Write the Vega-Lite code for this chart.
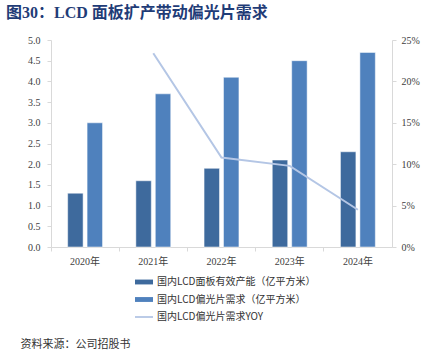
{
  "$schema": "https://vega.github.io/schema/vega-lite/v6.json",
  "width": 341,
  "height": 207,
  "autosize": {"type": "none"},
  "padding": {"left": 51, "top": 40, "right": 50, "bottom": 113},
  "background": "#ffffff",
  "title": {
    "text": "图30：LCD 面板扩产带动偏光片需求",
    "anchor": "start",
    "frame": "group",
    "orient": "top",
    "dx": -45,
    "offset": 14,
    "font": "Liberation Serif, Noto Sans CJK SC",
    "fontSize": 16,
    "fontWeight": "bold",
    "color": "#1F3C77"
  },
  "config": {
    "view": {"stroke": null},
    "axis": {
      "labelFont": "Liberation Serif, Noto Sans CJK SC",
      "labelFontSize": 10,
      "labelColor": "#404040",
      "domainColor": "#D9D9D9",
      "tickColor": "#D9D9D9",
      "grid": false
    }
  },
  "data": {
    "values": [
      {"year": "2020年", "series": "国内LCD面板有效产能（亿平方米）", "value": 1.3},
      {"year": "2020年", "series": "国内LCD偏光片需求（亿平方米）", "value": 3.0},
      {"year": "2021年", "series": "国内LCD面板有效产能（亿平方米）", "value": 1.6},
      {"year": "2021年", "series": "国内LCD偏光片需求（亿平方米）", "value": 3.7},
      {"year": "2022年", "series": "国内LCD面板有效产能（亿平方米）", "value": 1.9},
      {"year": "2022年", "series": "国内LCD偏光片需求（亿平方米）", "value": 4.1},
      {"year": "2023年", "series": "国内LCD面板有效产能（亿平方米）", "value": 2.1},
      {"year": "2023年", "series": "国内LCD偏光片需求（亿平方米）", "value": 4.5},
      {"year": "2024年", "series": "国内LCD面板有效产能（亿平方米）", "value": 2.3},
      {"year": "2024年", "series": "国内LCD偏光片需求（亿平方米）", "value": 4.7},
      {"year": "2021年", "series": "国内LCD偏光片需求YOY", "value": 0.234},
      {"year": "2022年", "series": "国内LCD偏光片需求YOY", "value": 0.108},
      {"year": "2023年", "series": "国内LCD偏光片需求YOY", "value": 0.098},
      {"year": "2024年", "series": "国内LCD偏光片需求YOY", "value": 0.045}
    ]
  },
  "encoding": {
    "x": {
      "field": "year",
      "type": "nominal",
      "sort": null,
      "scale": {"paddingInner": 0, "paddingOuter": 0},
      "axis": {
        "labelAngle": 0,
        "bandPosition": 0,
        "tickSize": 4,
        "labelPadding": 5,
        "labelBaseline": "top",
        "title": "资料来源：公司招股书",
        "titleX": -31,
        "titleY": 97,
        "titleAlign": "left",
        "titleBaseline": "middle",
        "titleFont": "Noto Sans CJK SC",
        "titleFontSize": 11,
        "titleFontWeight": "normal",
        "titleColor": "#333333"
      }
    },
    "color": {
      "field": "series",
      "type": "nominal",
      "scale": {
        "domain": ["国内LCD面板有效产能（亿平方米）", "国内LCD偏光片需求（亿平方米）", "国内LCD偏光片需求YOY"],
        "range": ["#3E6A9D", "#4F81BD", "#B4C6E5"]
      },
      "legend": {
        "title": null,
        "orient": "none",
        "legendX": 84,
        "legendY": 233,
        "direction": "vertical",
        "labelFont": "Noto Sans CJK SC",
        "labelFontSize": 10,
        "labelColor": "#333333",
        "symbolSize": 324,
        "rowPadding": 3.5,
        "labelOffset": 4,
        "encode": {
          "symbols": {
            "update": {
              "shape": {"signal": "datum.value == '国内LCD偏光片需求YOY' ? 'M-1,-0.1H1V0.1H-1Z' : 'M-1,-0.27H1V0.27H-1Z'"},
              "fill": {"scale": "color", "field": "value"},
              "stroke": {"scale": "color", "field": "value"},
              "strokeWidth": {"value": 0},
              "opacity": {"value": 1},
              "fillOpacity": {"value": 1}
            }
          }
        }
      }
    }
  },
  "layer": [
    {
      "transform": [{"filter": "datum.series != '国内LCD偏光片需求YOY'"}],
      "mark": {"type": "bar", "stroke": "#ffffff", "strokeOpacity": 0.5, "strokeWidth": 1},
      "encoding": {
        "xOffset": {
          "field": "series",
          "type": "nominal",
          "sort": ["国内LCD面板有效产能（亿平方米）", "国内LCD偏光片需求（亿平方米）"],
          "scale": {"paddingInner": 0.205, "paddingOuter": 0.857}
        },
        "y": {
          "field": "value",
          "type": "quantitative",
          "scale": {"domain": [0, 5]},
          "axis": {
            "title": null,
            "values": [0, 0.5, 1, 1.5, 2, 2.5, 3, 3.5, 4, 4.5, 5],
            "format": ".1f",
            "tickSize": 4,
            "labelPadding": 7
          }
        }
      }
    },
    {
      "transform": [{"filter": "datum.series == '国内LCD偏光片需求YOY'"}],
      "mark": {"type": "line", "strokeWidth": 2},
      "encoding": {
        "y": {
          "field": "value",
          "type": "quantitative",
          "scale": {"domain": [0, 0.25]},
          "axis": {
            "title": null,
            "orient": "right",
            "values": [0, 0.05, 0.1, 0.15, 0.2, 0.25],
            "format": ".0%",
            "tickSize": 4,
            "labelPadding": 5
          }
        }
      }
    }
  ],
  "resolve": {"scale": {"y": "independent"}}
}
